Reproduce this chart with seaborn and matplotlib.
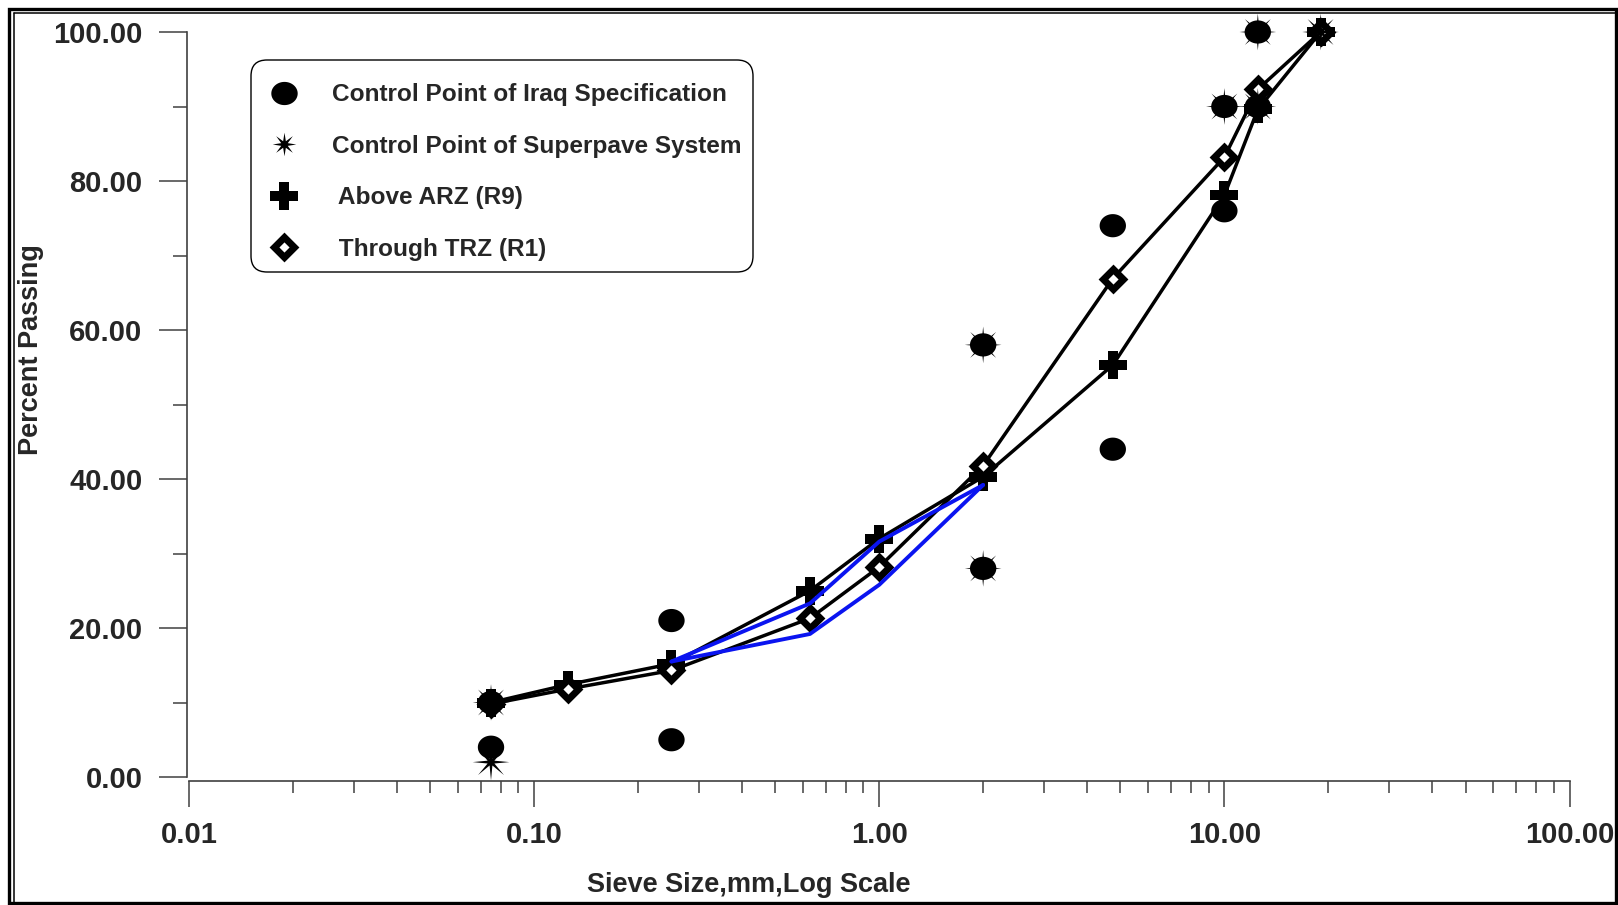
import numpy as np
import matplotlib
matplotlib.use("Agg")
import matplotlib.pyplot as plt
import seaborn as sns
from matplotlib.path import Path
from matplotlib.lines import Line2D
from matplotlib.patches import Rectangle, FancyBboxPatch
from matplotlib.transforms import IdentityTransform
from matplotlib.ticker import FixedLocator, LogLocator, NullFormatter, FixedFormatter

# ---------------- data ----------------
sieve_sizes = [0.075, 0.125, 0.25, 0.63, 1.0, 2.0, 4.75, 10.0, 12.5, 19.0]
above_arz_r9 = [10.0, 12.4, 15.2, 25.0, 32.0, 40.3, 55.3, 78.1, 89.6, 100.0]
through_trz_r1 = [9.8, 11.8, 14.3, 21.3, 28.2, 41.8, 66.9, 83.2, 92.3, 100.0]

iraq_sizes = [0.075, 0.075, 0.25, 0.25, 2.0, 2.0, 4.75, 4.75, 10.0, 10.0, 12.5, 12.5]
iraq_passing = [10, 4, 21, 5, 58, 28, 74, 44, 90, 76, 100, 90]

superpave_sizes = [0.075, 0.075, 2.0, 2.0, 10.0, 12.5, 12.5, 19.0]
superpave_passing = [10, 2, 58, 28, 90, 100, 90, 100]

blue_sizes = [0.25, 0.63, 1.0, 2.0]
blue_upper = [15.5, 23.3, 31.6, 39.2]
blue_lower = [15.5, 19.2, 25.8, 39.2]

x_ticks = [0.01, 0.1, 1, 10, 100]
x_tick_labels = ["0.01", "0.10", "1.00", "10.00", "100.00"]
y_ticks = [0, 20, 40, 60, 80, 100]
y_tick_labels = ["0.00", "20.00", "40.00", "60.00", "80.00", "100.00"]
y_minor = [10, 30, 50, 70, 90]

legend_labels = ["Control Point of Iraq Specification",
                 "Control Point of Superpave System",
                 " Above ARZ (R9)",
                 " Through TRZ (R1)"]

# ---------------- style ----------------
sns.set_style("white")
plt.rcParams["font.family"] = ["Liberation Sans", "DejaVu Sans"]
plt.rcParams["font.weight"] = "bold"

W, H = 1618, 905
fig = plt.figure(figsize=(W / 100, H / 100), dpi=100)
fig.patch.set_facecolor("white")

def fx(px):
    return px / W

def fy(py):
    return 1 - py / H

ax = fig.add_axes([fx(189), fy(777), (1569.5 - 189) / W, (777 - 32) / H])

# custom markers
t = np.linspace(0, 2 * np.pi, 60)
ellipse = Path(np.c_[np.cos(t), 0.88 * np.sin(t)], closed=True)
star8 = Path.unit_regular_star(8, 0.2)
star8_legend = Path.unit_regular_star(8, 0.3)

line_kw = dict(estimator=None, sort=False, ax=ax)

# gradation lines
sns.lineplot(x=sieve_sizes, y=above_arz_r9, color="black", lw=2.5,
             marker="P", markersize=20, markeredgewidth=0, markerfacecolor="black",
             markeredgecolor="black", zorder=3, clip_on=False, **line_kw)
sns.lineplot(x=sieve_sizes, y=through_trz_r1, color="black", lw=2.5,
             marker="D", markersize=10, markeredgewidth=5, markerfacecolor="white",
             markeredgecolor="black", zorder=3, clip_on=False, **line_kw)

# blue lines
sns.lineplot(x=blue_sizes, y=blue_upper, color="#0a14f0", lw=2.8, zorder=3.5, **line_kw)
sns.lineplot(x=blue_sizes, y=blue_lower, color="#0a14f0", lw=2.8, zorder=3.5, **line_kw)

# control points
sns.scatterplot(x=superpave_sizes, y=superpave_passing, marker=star8, s=700,
                color="black", edgecolor="none", linewidth=0, zorder=4,
                clip_on=False, ax=ax)
sns.scatterplot(x=iraq_sizes, y=iraq_passing, marker=ellipse, s=360,
                color="black", edgecolor="none", linewidth=0, zorder=5,
                clip_on=False, ax=ax)

# axes
ax.set_xscale("log")
ax.set_xlim(0.01, 100)
ax.set_ylim(0, 100)
ax.grid(False)

for s in ["top", "right"]:
    ax.spines[s].set_visible(False)
ax.spines["left"].set_position(("outward", 1.5))
ax.spines["bottom"].set_position(("outward", 3))
for s in ["left", "bottom"]:
    ax.spines[s].set_color("#404040")
    ax.spines[s].set_linewidth(1.2)

ax.xaxis.set_major_locator(FixedLocator(x_ticks))
ax.xaxis.set_major_formatter(FixedFormatter(x_tick_labels))
ax.xaxis.set_minor_locator(LogLocator(base=10, subs=np.arange(2, 10), numticks=20))
ax.xaxis.set_minor_formatter(NullFormatter())
ax.yaxis.set_major_locator(FixedLocator(y_ticks))
ax.yaxis.set_major_formatter(FixedFormatter(y_tick_labels))
ax.yaxis.set_minor_locator(FixedLocator(y_minor))

ax.tick_params(axis="x", which="major", direction="out", length=18.7, width=1.1,
               color="#404040", pad=10, labelsize=21, bottom=True)
ax.tick_params(axis="x", which="minor", direction="out", length=8.6, width=1.1,
               color="#404040", bottom=True)
ax.tick_params(axis="y", which="major", direction="out", length=20, width=1.1,
               color="#404040", pad=12, labelsize=21, left=True)
ax.tick_params(axis="y", which="minor", direction="out", length=10, width=1.1,
               color="#404040", left=True)
for lab in ax.get_xticklabels() + ax.get_yticklabels():
    lab.set_fontweight("bold")

ax.set_xlabel("Sieve Size,mm,Log Scale", fontsize=19.5, fontweight="bold")
ax.set_ylabel("Percent Passing", fontsize=19.5, fontweight="bold")
ax.xaxis.set_label_coords((749 - 189) / 1380.5, (777 - 885) / 745)
ax.xaxis.label.set_va("center")
ax.yaxis.set_label_coords((31 - 189) / 1380.5, (777 - 350) / 745)
ax.yaxis.label.set_va("center")

# rounded legend box (pixel placed), drawn under the legend entries
legend_box = FancyBboxPatch((251, H - 272), 502, 212,
                            boxstyle="round,pad=0,rounding_size=16",
                            fc="white", ec="black", lw=1.0,
                            transform=IdentityTransform(), zorder=6, clip_on=False)
ax.add_patch(legend_box)

handles = [
    Line2D([], [], ls="none", marker=ellipse, ms=19, color="black", mec="none"),
    Line2D([], [], ls="none", marker=star8_legend, ms=17, color="black", mec="none"),
    Line2D([], [], ls="none", marker="P", ms=20, color="black", mew=0),
    Line2D([], [], ls="none", marker="D", ms=10, mfc="white", mec="black", mew=5),
]
leg = ax.legend(handles, legend_labels, loc="upper left",
                bbox_to_anchor=(fx(269.5), fy(83.2)), bbox_transform=fig.transFigure,
                prop={"family": "Liberation Sans", "weight": "bold", "size": 17.6},
                frameon=False, borderpad=0, labelspacing=1.17, handlelength=1.2,
                handletextpad=1.37, borderaxespad=0)
leg.set_zorder(7)

# figure double frame
fig.add_artist(Rectangle((fx(8.5), fy(902.5)), (1615.5 - 8.5) / W, (902.5 - 9.5) / H,
                         fill=False, lw=2.4, ec="black", transform=fig.transFigure))
fig.add_artist(Line2D([fx(13.5), fx(13.5)], [fy(13.5), fy(902.5)], lw=1.1, color="black",
                      transform=fig.transFigure))
fig.add_artist(Line2D([fx(13.5), fx(1615.5)], [fy(13.5), fy(13.5)], lw=1.1, color="black",
                      transform=fig.transFigure))

fig.savefig("out.png", dpi=100, facecolor="white")
